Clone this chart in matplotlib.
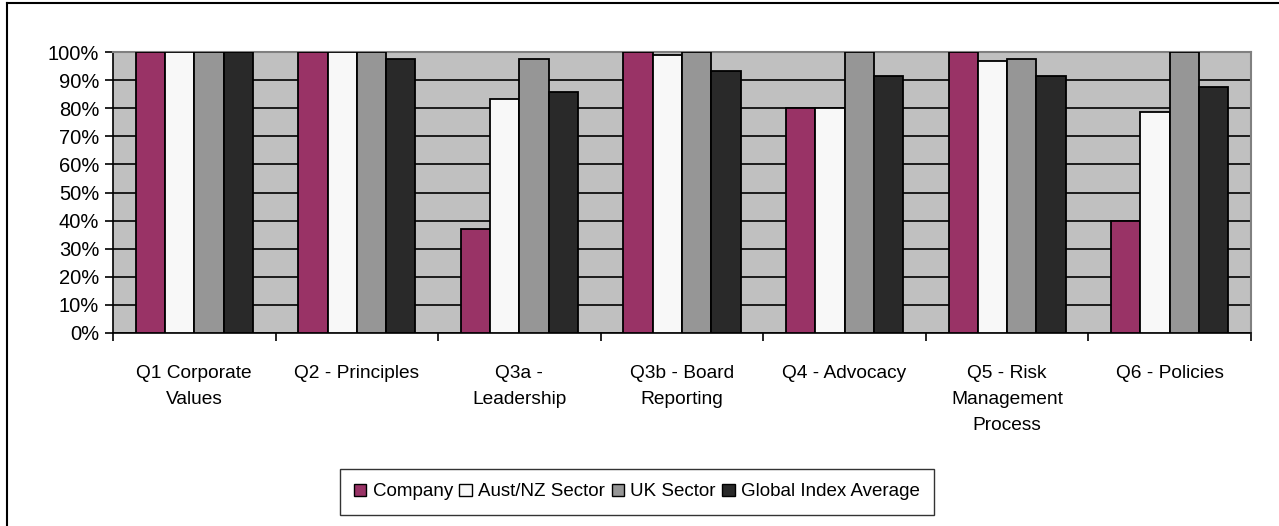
import matplotlib
matplotlib.use("Agg")
import matplotlib.pyplot as plt
import numpy as np
from matplotlib.patches import Patch
from matplotlib.lines import Line2D

plt.rcParams['font.family'] = ['Liberation Sans', 'DejaVu Sans']

categories = ["Q1 Corporate\nValues", "Q2 - Principles", "Q3a -\nLeadership",
              "Q3b - Board\nReporting", "Q4 - Advocacy", "Q5 - Risk\nManagement\nProcess",
              "Q6 - Policies"]
series_names = ["Company", "Aust/NZ Sector", "UK Sector", "Global Index Average"]
company = [100, 100, 37, 100, 80, 100, 40]
aust_nz = [100, 100, 83.2, 98.9, 80, 96.9, 78.5]
uk = [100, 100, 97.5, 100, 100, 97.6, 100]
global_avg = [100, 97.6, 85.8, 93.3, 91.4, 91.4, 87.6]
colors = ["#993366", "#F8F8F8", "#969696", "#292929"]
yticks = [0, 10, 20, 30, 40, 50, 60, 70, 80, 90, 100]
ytick_labels = [f"{v}%" for v in yticks]

W, H = 1279, 526
fig = plt.figure(figsize=(W / 100, H / 100), dpi=100)
ax = fig.add_axes([113 / W, 1 - 333 / H, (1251 - 113) / W, (333 - 52) / H])
ax.set_facecolor("#C0C0C0")

x = np.arange(len(categories))
bw = 0.18
data = [company, aust_nz, uk, global_avg]
for i, (vals, c) in enumerate(zip(data, colors)):
    ax.bar(x + (i - 1.5) * bw, vals, width=bw, color=c, edgecolor="black",
           linewidth=1.3, zorder=3)

ax.set_xlim(-0.5, len(categories) - 0.5)
ax.set_ylim(0, 100)
ax.set_yticks(yticks)
ax.set_yticklabels(ytick_labels, fontsize=14.5)
ax.yaxis.grid(True, color="black", linewidth=1.2, zorder=1)
ax.set_axisbelow(True)

ax.set_xticks(np.arange(len(categories) + 1) - 0.5)
ax.set_xticklabels([])
ax.set_xticks(x, minor=True)
ax.set_xticklabels(categories, minor=True, fontsize=13.8, linespacing=1.7)
ax.tick_params(axis="x", which="minor", length=0, pad=23)
ax.tick_params(axis="x", which="major", length=6, width=1.2, direction="out")
ax.tick_params(axis="y", length=6, width=1.2, direction="out", pad=4)

for s in ["left", "bottom"]:
    ax.spines[s].set_color("black")
    ax.spines[s].set_linewidth(1.2)
for s in ["top", "right"]:
    ax.spines[s].set_color("#808080")
    ax.spines[s].set_linewidth(1.5)

handles = [Patch(facecolor=c, edgecolor="black", linewidth=1.0) for c in colors]
leg = fig.legend(handles, series_names, loc="center",
                 bbox_to_anchor=(637 / W, 1 - 492 / H), ncol=4, fontsize=13.5,
                 frameon=True, fancybox=False, edgecolor="black",
                 handlelength=0.65, handleheight=0.65, handletextpad=0.35,
                 columnspacing=0.35, borderpad=0.75, borderaxespad=0)
leg.get_frame().set_linewidth(1.0)

# outer chart border (left and top visible)
fig.add_artist(Line2D([7 / W, 7 / W], [0, 1 - 3 / H], transform=fig.transFigure,
                      color="black", linewidth=1.5))
fig.add_artist(Line2D([7 / W, 1], [1 - 3 / H, 1 - 3 / H], transform=fig.transFigure,
                      color="black", linewidth=1.5))

fig.savefig("out.png", dpi=100)
